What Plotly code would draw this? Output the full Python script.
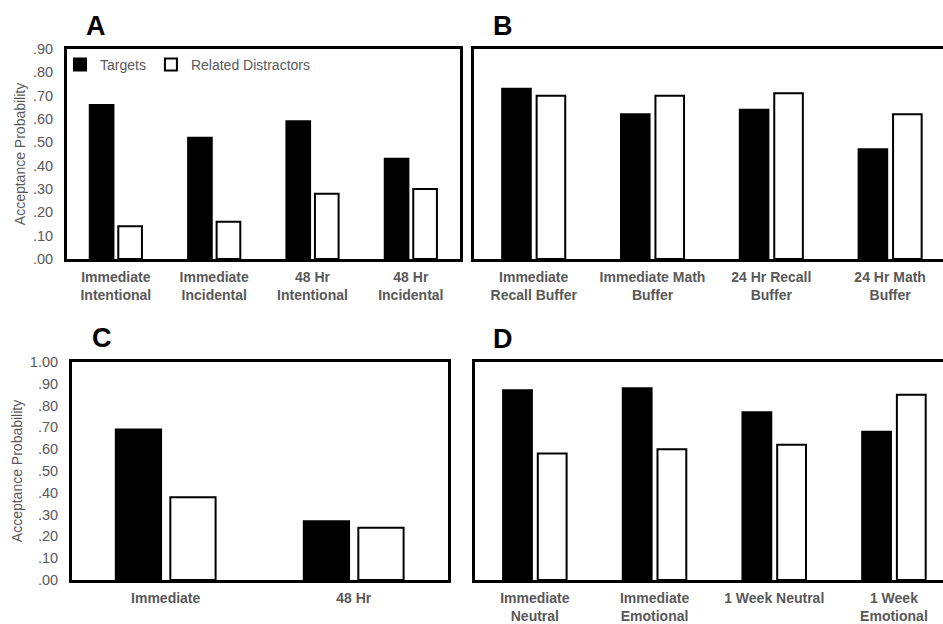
import plotly.graph_objects as go

# ---------------- data ----------------
cats_a = ["Immediate<br>Intentional", "Immediate<br>Incidental", "48 Hr<br>Intentional", "48 Hr<br>Incidental"]
targets_a = [0.66, 0.52, 0.59, 0.43]
distractors_a = [0.14, 0.16, 0.28, 0.30]

cats_b = ["Immediate<br>Recall Buffer", "Immediate Math<br>Buffer", "24 Hr Recall<br>Buffer", "24 Hr Math<br>Buffer"]
targets_b = [0.73, 0.62, 0.64, 0.47]
distractors_b = [0.70, 0.70, 0.71, 0.62]

cats_c = ["Immediate", "48 Hr"]
targets_c = [0.69, 0.27]
distractors_c = [0.38, 0.24]

cats_d = ["Immediate<br>Neutral", "Immediate<br>Emotional", "1 Week Neutral", "1 Week<br>Emotional"]
targets_d = [0.87, 0.88, 0.77, 0.68]
distractors_d = [0.58, 0.60, 0.62, 0.85]

tickvals_top = [0.0, 0.1, 0.2, 0.3, 0.4, 0.5, 0.6, 0.7, 0.8, 0.9]
ticktext_top = [".00", ".10", ".20", ".30", ".40", ".50", ".60", ".70", ".80", ".90"]
tickvals_bot = [0.0, 0.1, 0.2, 0.3, 0.4, 0.5, 0.6, 0.7, 0.8, 0.9, 1.0]
ticktext_bot = [".00", ".10", ".20", ".30", ".40", ".50", ".60", ".70", ".80", ".90", "1.00"]

panel_letters = ["A", "B", "C", "D"]
series_names = ["Targets", "Related Distractors"]
y_title = "Acceptance Probability"

# ---------------- style ----------------
W, H = 943, 624
FONT = "Liberation Sans, Arial, sans-serif"
GRAY = "#595959"

def px_x(p):
    return p / W

def px_y(p):
    return 1 - p / H

fig = go.Figure()

panels = [
    ("x", "y", cats_a, targets_a, distractors_a, True),
    ("x2", "y2", cats_b, targets_b, distractors_b, False),
    ("x3", "y3", cats_c, targets_c, distractors_c, False),
    ("x4", "y4", cats_d, targets_d, distractors_d, False),
]

for xa, ya, cats, tv, dv, show in panels:
    fig.add_trace(go.Bar(
        x=cats, y=tv, name=series_names[0], xaxis=xa, yaxis=ya,
        marker=dict(color="black", line=dict(color="black", width=2)),
        showlegend=show, legendgroup="t",
    ))
    fig.add_trace(go.Bar(
        x=cats, y=dv, name=series_names[1], xaxis=xa, yaxis=ya,
        marker=dict(color="white", line=dict(color="black", width=2)),
        showlegend=show, legendgroup="d",
    ))

def xaxis(domain, rng, anchor):
    return dict(
        domain=domain, range=rng, anchor=anchor, type="category",
        showline=True, mirror=True, linecolor="black", linewidth=2.5,
        showgrid=False, zeroline=False, ticks="", automargin=False,
        tickfont=dict(family=FONT, size=14, color=GRAY, weight="bold"),
        ticklabelstandoff=3, fixedrange=True,
    )

def yaxis(domain, rng, anchor, tv, tt, labels, mirror, title):
    d = dict(
        domain=domain, range=rng, anchor=anchor,
        showline=True, mirror=mirror, linecolor="black", linewidth=2.5,
        showgrid=False, zeroline=False, ticks="", automargin=False,
        tickmode="array", tickvals=tv, ticktext=tt, showticklabels=labels,
        tickfont=dict(family=FONT, size=14.5, color=GRAY),
        ticklabelstandoff=8, fixedrange=True,
    )
    if title:
        d["title"] = dict(text=y_title, font=dict(family=FONT, size=14, color=GRAY), standoff=4)
    return d

top_dom = [px_y(259), px_y(49)]
bot_dom = [px_y(580), px_y(362)]

fig.update_layout(
    width=W, height=H,
    margin=dict(l=0, r=0, t=0, b=0),
    paper_bgcolor="white", plot_bgcolor="white",
    barmode="group", bargap=0.42, bargroupgap=0.17,
    font=dict(family=FONT, color=GRAY),
    xaxis=xaxis([px_x(66.7), px_x(460)], [-0.5, 3.5], "y"),
    yaxis=yaxis(top_dom, [0, 0.9], "x", tickvals_top, ticktext_top, True, True, True),
    xaxis2=xaxis([px_x(474.3), 1.0], [-0.5, 3.445], "y2"),
    yaxis2=yaxis(top_dom, [0, 0.9], "x2", tickvals_top, ticktext_top, False, False, False),
    xaxis3=xaxis([px_x(71.7), px_x(447.7)], [-0.5, 1.5], "y3"),
    yaxis3=yaxis(bot_dom, [0, 1.0], "x3", tickvals_bot, ticktext_bot, True, True, True),
    xaxis4=xaxis([px_x(475), 1.0], [-0.5, 3.41], "y4"),
    yaxis4=yaxis(bot_dom, [0, 1.0], "x4", tickvals_bot, ticktext_bot, False, False, False),
    legend=dict(
        orientation="h", x=px_x(60), y=px_y(49), xanchor="left", yanchor="top",
        font=dict(family=FONT, size=14, color=GRAY),
        bgcolor="rgba(0,0,0,0)", itemclick=False, itemdoubleclick=False,
        tracegroupgap=0,
    ),
)

letter_pos = [(96, 26), (503, 26), (102, 338), (503, 339)]
for letter, (lx, ly) in zip(panel_letters, letter_pos):
    fig.add_annotation(
        text=letter, x=px_x(lx), y=px_y(ly), xref="paper", yref="paper",
        showarrow=False, xanchor="center", yanchor="middle",
        font=dict(family=FONT, size=27, color="black", weight="bold"),
    )

fig.write_html(
    "out.html",
    config={"displayModeBar": False},
    post_script="document.body.style.margin='0';document.body.style.overflow='hidden';",
)
